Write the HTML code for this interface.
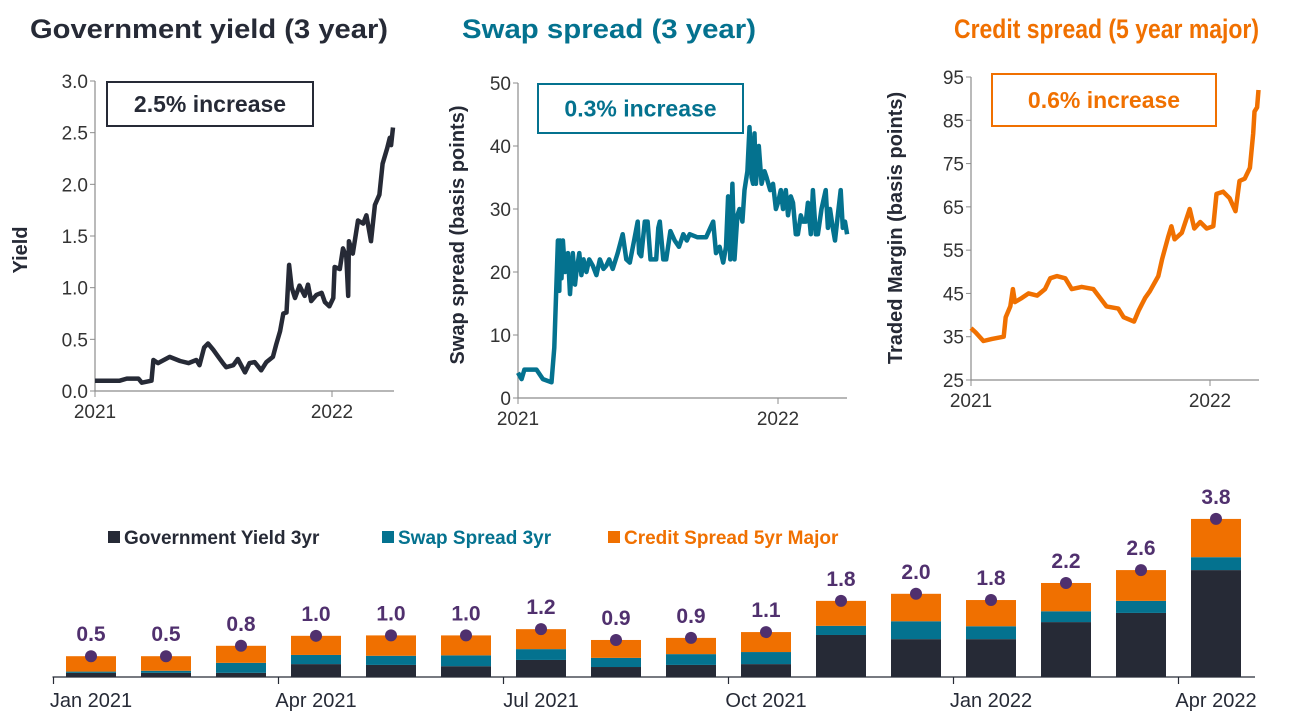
<!DOCTYPE html>
<html><head><meta charset="utf-8"><style>
html,body{margin:0;padding:0;background:#fff;}
svg{display:block;font-family:"Liberation Sans",Arial,sans-serif;}
</style></head><body>
<svg id="root" width="1295" height="715" viewBox="0 0 1295 715">
<text x="30" y="38" font-size="27" font-weight="bold" fill="#262a36" textLength="358" lengthAdjust="spacingAndGlyphs">Government yield (3 year)</text>
<text x="462" y="38" font-size="27" font-weight="bold" fill="#04728f" textLength="294" lengthAdjust="spacingAndGlyphs">Swap spread (3 year)</text>
<text x="954" y="38" font-size="27" font-weight="bold" fill="#f07000" textLength="305" lengthAdjust="spacingAndGlyphs">Credit spread (5 year major)</text>
<g id="c1"></g>
<g id="c2"></g>
<g id="c3"></g>
<g id="bars"></g>
</svg>
<script>
// ---- line chart data (day since 1 Jan 2021, value) ----
const govDays = [0,38,49,67,72,87,90,97,115,131,144,156,161,168,174,182,190,197,202,213,220,231,238,246,256,264,274,279,285,290,295,299,303,308,315,323,328,333,341,349,354,361,367,369,377,382,387,390,391,397,405,413,418,425,431,438,443,450,454,456,459];
const govVals = [0.1,0.1,0.12,0.12,0.08,0.1,0.3,0.27,0.33,0.29,0.27,0.3,0.25,0.42,0.46,0.4,0.33,0.27,0.23,0.25,0.31,0.18,0.27,0.28,0.2,0.28,0.33,0.45,0.58,0.75,0.76,1.22,1.0,0.9,1.02,0.92,1.03,0.87,0.93,0.95,0.86,0.82,0.9,1.2,1.18,1.38,1.3,0.92,1.45,1.33,1.65,1.62,1.7,1.45,1.8,1.9,2.2,2.35,2.45,2.38,2.55];
const swapDays = [0,5,9,26,35,47,51,56,58,59,61,63,66,70,73,77,80,82,86,89,92,96,100,105,110,115,120,124,128,133,140,147,152,157,163,168,170,173,178,182,186,194,197,199,204,208,214,220,226,232,237,241,252,264,270,274,278,283,288,292,295,298,301,304,308,311,315,318,322,325,328,330,332,334,338,342,346,349,354,358,362,365,369,372,376,379,383,386,390,393,397,400,404,407,411,414,418,421,426,432,435,438,442,445,449,453,456,459,462];
const swapVals = [4,3,4.5,4.5,3,2.5,8,25,17,25,19,25,20,23,16.5,23,18,20,23,19.5,22,20,22,21,19.5,22,20.5,21,22,20.5,23,26,22,21.5,25,28,23,22.5,28,28,22,22,27,28,22,22,26.5,25,24,26,25,26,25.5,25.5,27,28,23,24,21.5,24,32,22,34,22,29,30,28,33,36,43,35,34,42,34,40,34,36,35,33,34,30,31,33,30,33,29,32,31,26,26,29,28,28,31,26,33,26,26,30,33,27,30,27,25,29,33,27,28,26];
const credDays = [0,7,19,32,50,53,60,64,67,78,88,101,113,121,131,144,154,169,187,197,207,225,233,249,256,266,273,286,292,301,306,311,322,334,341,350,360,370,375,385,395,404,410,418,426,431,433,437,439];
const credVals = [37,36,34,34.5,35,39.5,42,46,43,44,45,44.5,46,48.5,49,48.5,46,46.5,46,44,42,41.5,39.5,38.5,41,44,45.5,49,53,58,60.5,57.5,59,64.5,60,61.5,60,60.5,68,68.5,67,64,71,71.5,74,82,87,88,92];
const yTicks1 = [0,0.5,1,1.5,2,2.5,3];
const yTicks2 = [0,10,20,30,40,50];
const yTicks3 = [25,35,45,55,65,75,85,95];
const xTickLabels = ["2021","2022"];
// ---- bar chart data ----
const barMonths = ["Jan 2021","Feb 2021","Mar 2021","Apr 2021","May 2021","Jun 2021","Jul 2021","Aug 2021","Sep 2021","Oct 2021","Nov 2021","Dec 2021","Jan 2022","Feb 2022","Mar 2022","Apr 2022"];
const govPart = [0.10,0.10,0.10,0.31,0.29,0.26,0.41,0.24,0.29,0.31,1.01,0.91,0.91,1.32,1.54,2.57];
const swapPart = [0.03,0.05,0.24,0.22,0.22,0.26,0.26,0.22,0.26,0.29,0.22,0.43,0.31,0.26,0.29,0.31];
const creditPart = [0.37,0.35,0.41,0.46,0.49,0.48,0.48,0.43,0.39,0.48,0.60,0.66,0.63,0.68,0.74,0.92];
const totalLabels = ["0.5","0.5","0.8","1.0","1.0","1.0","1.2","0.9","0.9","1.1","1.8","2.0","1.8","2.2","2.6","3.8"];
const barTickLabels = ["Jan 2021","Apr 2021","Jul 2021","Oct 2021","Jan 2022","Apr 2022"];

const NS="http://www.w3.org/2000/svg";
function mk(tag,attrs,parent){const e=document.createElementNS(NS,tag);for(const k in attrs)e.setAttribute(k,attrs[k]);parent.appendChild(e);return e;}

function lineChart(g,cfg){
  const sx=d=>cfg.x0+(cfg.x1-cfg.x0)*d/365;
  const sy=v=>cfg.yb+(cfg.yt-cfg.yb)*(v-cfg.ymin)/(cfg.ymax-cfg.ymin);
  const ax=mk('path',{d:`M${cfg.x0} ${cfg.yt}V${cfg.yb}H${cfg.xe}`,stroke:'#8c8c8c','stroke-width':1.2,fill:'none'},g);
  
  
  cfg.ticks.forEach(t=>{
    const y=sy(t);
    mk('line',{x1:cfg.x0-5,x2:cfg.x0,y1:y,y2:y,stroke:'#8c8c8c','stroke-width':1},g);
    const tx=mk('text',{x:cfg.x0-7,y:y+7,'font-size':19,fill:'#333','text-anchor':'end'},g);
    tx.textContent=cfg.fmt(t);
    
    
  });
  [0,365].forEach((d,i)=>{
    const x=sx(d);
    mk('line',{x1:x,x2:x,y1:cfg.yb,y2:cfg.yb+6,stroke:'#8c8c8c','stroke-width':1},g);
    const tx=mk('text',{x:x,y:cfg.yb+27,'font-size':19,fill:'#333','text-anchor':'middle'},g);
    tx.textContent=xTickLabels[i];
    
    
  });
  const pts=cfg.days.map((d,i)=>`${sx(d).toFixed(1)},${sy(cfg.vals[i]).toFixed(1)}`).join(' ');
  const pl=mk('polyline',{points:pts,fill:'none',stroke:cfg.color,'stroke-width':4.5,'stroke-linejoin':'round'},g);
  
  
  const at=mk('text',{transform:`translate(${cfg.tx},${cfg.ty}) rotate(-90)`,'font-size':20,'font-weight':'bold',fill:'#262a36','text-anchor':'middle'},g);
  at.textContent=cfg.title;
  
  
  const b=cfg.box;
  const r=mk('rect',{x:b[0],y:b[1],width:b[2],height:b[3],fill:'#fff',stroke:cfg.boxColor,'stroke-width':2},g);
  
  
  const bt=mk('text',{x:b[0]+b[2]/2,y:b[1]+b[3]/2+8,'font-size':23,'font-weight':'bold',fill:cfg.boxColor,'text-anchor':'middle'},g);
  bt.textContent=cfg.boxText;
  
  
}
lineChart(document.getElementById('c1'),{x0:95,x1:332,xe:394,yb:391,yt:81,ymin:0,ymax:3,ticks:yTicks1,fmt:t=>t.toFixed(1),days:govDays,vals:govVals,color:'#262a36',title:'Yield',tx:27,ty:250,box:[107,82,206,44],boxColor:'#262a36',boxText:'2.5% increase'});
lineChart(document.getElementById('c2'),{x0:518,x1:778,xe:847,yb:398,yt:83,ymin:0,ymax:50,ticks:yTicks2,fmt:t=>String(t),days:swapDays,vals:swapVals,color:'#04728f',title:'Swap spread (basis points)',tx:464,ty:235,box:[538,84,205,49],boxColor:'#04728f',boxText:'0.3% increase'});
lineChart(document.getElementById('c3'),{x0:971,x1:1210,xe:1259,yb:380,yt:77,ymin:25,ymax:95,ticks:yTicks3,fmt:t=>String(t),days:credDays,vals:credVals,color:'#f07000',title:'Traded Margin (basis points)',tx:902,ty:228,box:[992,74,224,52],boxColor:'#f07000',boxText:'0.6% increase'});

// bar chart
(function(){
  const g=document.getElementById('bars');
  const base=677, unit=41.6, step=75, first=91, bw=50;
  const cx=i=>first+i*step;
  const sy=v=>base-v*unit;
  const colors=['#262a36','#04728f','#f07000'];
  barMonths.forEach((m,i)=>{
    const parts=[govPart[i],swapPart[i],creditPart[i]];
    let acc=0;
    parts.forEach((p,k)=>{
      const r=mk('rect',{x:cx(i)-bw/2,y:sy(acc+p),width:bw,height:p*unit,fill:colors[k]},g);
      
      
      acc+=p;
    });
    const c=mk('circle',{cx:cx(i),cy:sy(acc),r:6,fill:'#50306e'},g);
    
    
    const t=mk('text',{x:cx(i),y:sy(acc)-15,'font-size':21,'font-weight':'bold',fill:'#50306e','text-anchor':'middle'},g);
    t.textContent=totalLabels[i];
    
    
  });
  const ax=mk('line',{x1:first-step/2-1,x2:cx(15)+bw/2+14,y1:base,y2:base,stroke:'#262a36','stroke-width':1.2},g);
  
  
  barTickLabels.forEach((l,j)=>{
    const x=first-step/2+j*3*step;
    mk('line',{x1:x,x2:x,y1:base,y2:base+7,stroke:'#262a36','stroke-width':1.2},g);
    const t=mk('text',{x:cx(j*3),y:base+30,'font-size':20,fill:'#262a36','text-anchor':'middle'},g);
    t.textContent=l;
    
    
  });
  const leg=[['Government Yield 3yr',108,'#262a36'],['Swap Spread 3yr',382,'#04728f'],['Credit Spread 5yr Major',608,'#f07000']];
  leg.forEach(([l,x,c])=>{
    const s=mk('rect',{x:x,y:531,width:12,height:12,fill:c},g);
    
    
    const t=mk('text',{x:x+16,y:544,'font-size':19,'font-weight':'bold',fill:c},g);
    t.textContent=l;
    
    
  });
})();
</script>
</body></html>
